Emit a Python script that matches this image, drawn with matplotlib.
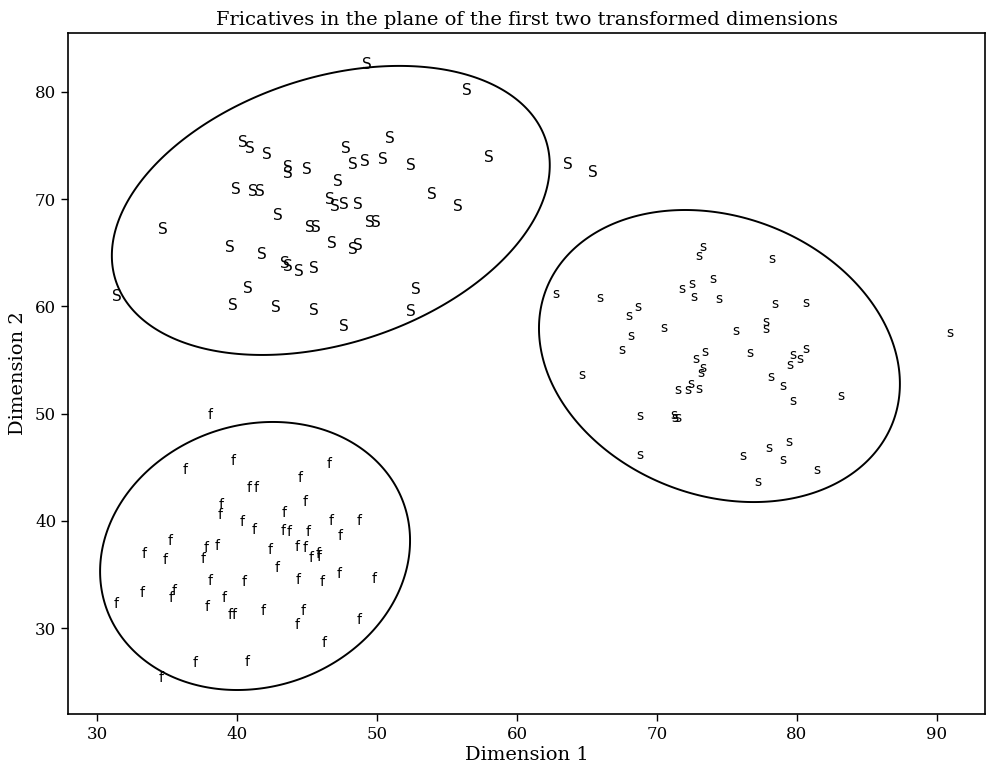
import numpy as np
import matplotlib
matplotlib.use("Agg")
import matplotlib.pyplot as plt
from matplotlib.patches import Polygon

# ---- data: upper-left cluster ("S") ----
S_x = [49.3, 56.4, 34.7, 31.4, 40.4, 40.9, 42.1, 43.6, 43.6, 45.0, 39.9, 41.1, 41.6,
       47.8, 48.3, 49.1, 50.4, 50.9, 52.4, 58.0, 63.6, 65.4, 47.2, 46.6, 47.0, 47.6,
       48.6, 53.9, 55.8, 42.9, 45.2, 45.6, 49.5, 49.9, 39.5, 41.8, 46.8, 48.3, 48.6,
       43.4, 43.6, 44.4, 45.5, 40.8, 52.8, 39.7, 42.8, 45.5, 52.4, 47.6]
S_y = [82.7, 80.3, 67.3, 61.1, 75.4, 74.9, 74.3, 73.1, 72.5, 72.9, 71.0, 70.9, 70.9,
       74.9, 73.4, 73.7, 73.8, 75.8, 73.3, 74.0, 73.4, 72.6, 71.8, 70.1, 69.5, 69.6,
       69.6, 70.6, 69.5, 68.6, 67.5, 67.5, 68.0, 68.0, 65.6, 65.0, 66.0, 65.4, 65.8,
       64.1, 63.9, 63.4, 63.7, 61.8, 61.7, 60.2, 60.0, 59.8, 59.7, 58.3]

# ---- data: right cluster ("s") ----
s_x = [73.3, 73.0, 62.8, 65.9, 71.8, 72.5, 72.6, 74.0, 74.4, 68.6, 68.0, 68.1, 70.5,
       75.6, 67.5, 72.8, 73.4, 73.3, 73.1, 64.6, 78.2, 78.4, 80.6, 77.8, 77.8, 76.6,
       80.6, 79.7, 80.2, 79.5, 78.1, 71.5, 72.2, 72.4, 73.0, 68.8, 71.2, 71.3, 71.5,
       68.8, 79.0, 79.7, 83.1, 79.4, 78.0, 76.1, 79.0, 81.4, 77.2, 90.9]
s_y = [65.7, 64.8, 61.3, 60.9, 61.8, 62.2, 61.0, 62.7, 60.8, 60.1, 59.2, 57.4, 58.1,
       57.8, 56.1, 55.2, 55.9, 54.4, 53.9, 53.7, 64.6, 60.4, 60.5, 58.7, 58.0, 55.8,
       56.2, 55.6, 55.2, 54.7, 53.6, 52.3, 52.3, 52.9, 52.4, 49.9, 50.0, 49.7, 49.7,
       46.3, 52.7, 51.3, 51.8, 47.5, 46.9, 46.2, 45.8, 44.9, 43.8, 57.7]

# ---- data: lower-left cluster ("f") ----
f_x = [38.1, 36.3, 39.7, 40.9, 41.4, 38.9, 38.8, 40.4, 41.2, 35.2, 33.4, 37.8, 38.6,
       42.4, 34.9, 37.6, 42.9, 38.1, 40.5, 33.2, 35.5, 35.3, 31.4, 37.9, 39.1, 39.5,
       39.8, 41.9, 37.0, 40.7, 34.6, 46.6, 44.5, 44.9, 43.4, 46.7, 48.7, 43.3, 43.7,
       45.1, 47.4, 44.3, 44.9, 45.3, 45.8, 45.9, 47.3, 44.4, 46.1, 49.8, 44.7, 44.3,
       48.7, 46.2]
f_y = [50.0, 44.9, 45.7, 43.2, 43.2, 41.6, 40.7, 40.0, 39.3, 38.3, 37.0, 37.6, 37.8,
       37.4, 36.5, 36.6, 35.7, 34.5, 34.4, 33.4, 33.6, 32.9, 32.4, 32.1, 32.9, 31.4,
       31.4, 31.7, 26.9, 27.0, 25.5, 45.4, 44.1, 41.9, 40.9, 40.1, 40.1, 39.2, 39.1,
       39.1, 38.7, 37.7, 37.6, 36.7, 37.0, 36.8, 35.2, 34.6, 34.4, 34.7, 31.7, 30.4,
       30.9, 28.7]

# ---- ellipses: centre, half-extent in x, half-extent in y, correlation ----
ellipses = [
    (46.7, 68.95, 15.64, 13.48, 0.313),
    (74.46, 55.37, 12.89, 13.62, -0.19),
    (41.29, 36.72, 11.07, 12.50, 0.115),
]

plt.rcParams['font.family'] = ['DejaVu Serif']

fig = plt.figure(figsize=(9.86, 7.69), dpi=100)
ax = fig.add_axes([0.069, 0.0715, 0.930, 0.8856])

for x, y in zip(S_x, S_y):
    ax.text(x, y, 'S', ha='center', va='center_baseline', fontsize=11,
            family='DejaVu Sans', color='black')
for x, y in zip(s_x, s_y):
    ax.text(x, y, 's', ha='center', va='center_baseline', fontsize=10,
            family='DejaVu Sans', color='black')
for x, y in zip(f_x, f_y):
    ax.text(x, y, 'f', ha='center', va='center_baseline', fontsize=10,
            family='DejaVu Sans', color='black')

t = np.linspace(0, 2 * np.pi, 400, endpoint=False)
for cx, cy, hx, hy, r in ellipses:
    M = np.array([[hx * hx, r * hx * hy], [r * hx * hy, hy * hy]])
    L = np.linalg.cholesky(M)
    pts = L @ np.vstack([np.cos(t), np.sin(t)])
    poly = Polygon(np.column_stack([cx + pts[0], cy + pts[1]]), closed=True,
                   fill=False, edgecolor='black', lw=1.4)
    ax.add_patch(poly)

ax.set_xlim(27.93, 93.43)
ax.set_ylim(21.98, 85.5)
ax.set_xticks([30, 40, 50, 60, 70, 80, 90])
ax.set_yticks([30, 40, 50, 60, 70, 80])
ax.tick_params(direction='out', length=5, width=1, labelsize=12,
               top=False, right=False)
for sp in ax.spines.values():
    sp.set_linewidth(1.2)

ax.set_xlabel('Dimension 1', fontsize=14, labelpad=2)
ax.set_ylabel('Dimension 2', fontsize=14, labelpad=6)
ax.set_title('Fricatives in the plane of the first two transformed dimensions',
             fontsize=14, pad=6)

fig.savefig('out.png', dpi=100, facecolor='white')
